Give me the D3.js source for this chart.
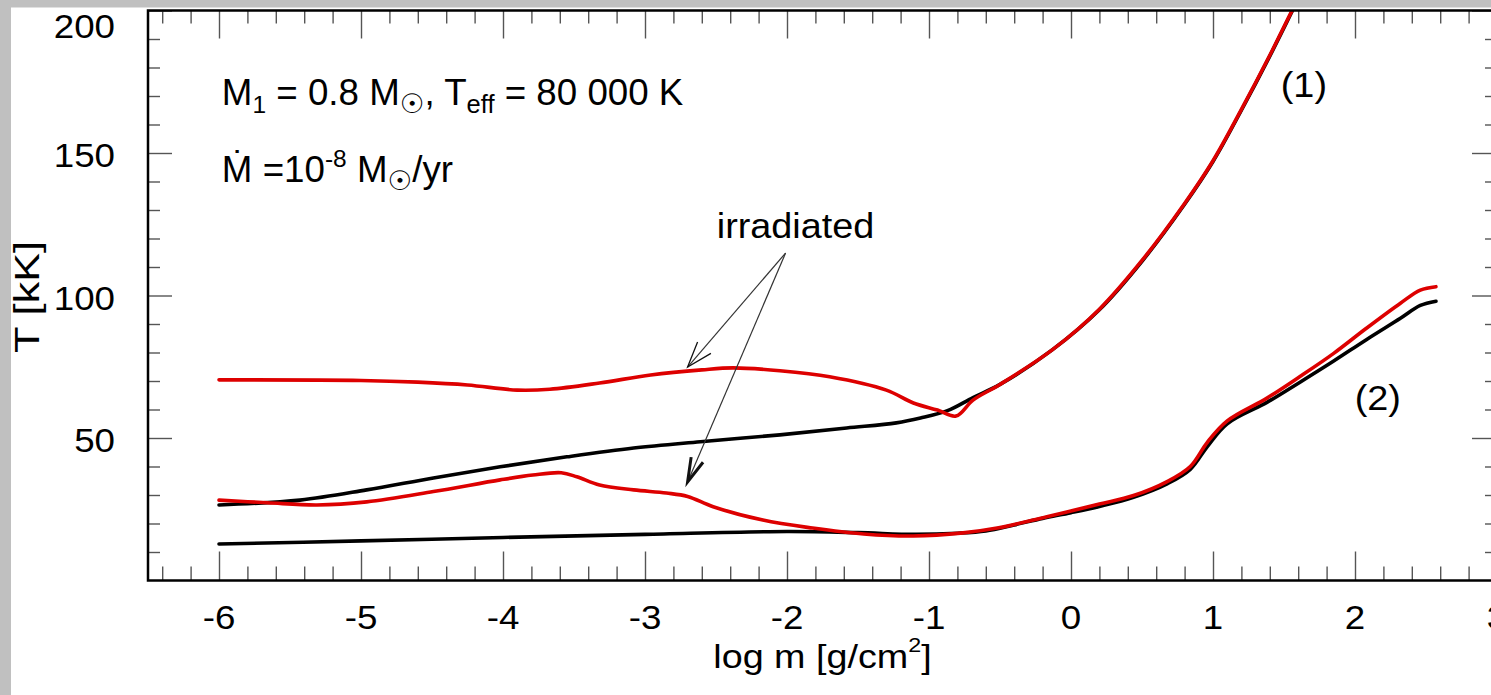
<!DOCTYPE html>
<html><head><meta charset="utf-8">
<script src="https://cdn.jsdelivr.net/npm/d3@7"></script>
<style>html,body{margin:0;padding:0;background:#c0c0c0;overflow:hidden}</style>
</head><body><svg id="c" width="1491" height="695"></svg>
<script>
// ---- data (log m [g/cm^2], T [kK]) ----
const logmBlack1 = [-6, -5.43, -4.96, -4.49, -4.02, -3.55, -3.08, -2.61, -2.05, -1.58, -1.23, -1.06, -0.87, -0.69, -0.5, -0.13, 0.2, 0.5, 0.8, 1.0, 1.2, 1.4, 1.56, 1.62];
const TBlack1    = [26.5, 28.2, 31.8, 36.0, 39.9, 43.4, 46.5, 48.7, 51.1, 53.5, 55.3, 57.0, 59.6, 64.2, 68.8, 81.0, 95.0, 112, 132, 147, 165, 184, 200, 206];
const logmRed1   = [-6, -5, -4.6, -4.25, -3.9, -3.67, -3.32, -2.96, -2.6, -2.38, -2.05, -1.7, -1.3, -1.11, -0.94, -0.81, -0.69, -0.5, -0.13, 0.2, 0.5, 0.8, 1.0, 1.2, 1.4, 1.56, 1.62];
const TRed1      = [70.4, 70.2, 69.6, 68.6, 66.8, 67.1, 69.3, 72.1, 73.9, 74.6, 73.6, 71.5, 66.8, 62.3, 59.8, 57.7, 63.3, 68.8, 81.0, 95.2, 112.3, 132.3, 147.3, 165.3, 184.3, 200.3, 206];
const logmBlack2 = [-6, -5, -4, -3, -2, -1.5, -1.1, -0.8, -0.6, -0.4, -0.2, 0, 0.2, 0.44, 0.68, 0.84, 0.96, 1.1, 1.38, 1.61, 1.85, 2.08, 2.32, 2.46, 2.57];
const TBlack2    = [12.8, 13.9, 15.1, 16.2, 17.2, 16.8, 16.2, 16.6, 17.4, 19.5, 21.8, 23.8, 26.0, 29.2, 34.0, 39.0, 47.0, 55.0, 62.5, 69.5, 77.0, 84.5, 92.0, 96.5, 98.0];
const logmRed2   = [-6, -5.66, -5.31, -4.96, -4.49, -4.02, -3.79, -3.59, -3.48, -3.32, -3.08, -2.85, -2.7, -2.52, -2.17, -1.82, -1.46, -1.11, -0.76, -0.52, -0.17, 0.2, 0.44, 0.68, 0.84, 0.96, 1.1, 1.38, 1.61, 1.85, 2.08, 2.32, 2.46, 2.57];
const TRed2      = [28.2, 27.3, 26.5, 27.6, 31.2, 35.3, 37.0, 37.8, 36.4, 33.5, 31.8, 30.7, 29.5, 25.9, 21.2, 18.4, 16.3, 15.6, 16.7, 18.4, 22.4, 26.8, 29.8, 34.8, 40.0, 48.5, 56.0, 64.0, 71.5, 79.7, 88.5, 97.3, 101.9, 103.1];

const xMajorTicks = [-6, -5, -4, -3, -2, -1, 0, 1, 2, 3];
const yMajorTicks = [50, 100, 150, 200];
const xDomain = [-6.5, 3];
const yDomain = [0, 200];

// annotation anchors in data units
const arrowFrom = [-2.01, 114.9];
const arrowTo = [[-2.70, 74.9], [-2.70, 34.6]];

// ---- drawing ----
const W = 1491, H = 695;
const svg = d3.select('#c');
const FONT = '"Liberation Sans", Arial, Helvetica, sans-serif';
const SX = 1.08;

svg.append('rect').attr('width', W).attr('height', H).attr('fill', '#c0c0c0');
svg.append('rect').attr('x', 11).attr('y', 7.5).attr('width', W).attr('height', H).attr('fill', '#fff');

const x = d3.scaleLinear().domain(xDomain).range([148, 1497]);
const y = d3.scaleLinear().domain(yDomain).range([580.5, 10.5]);

const xMinor = d3.range(-64, 31, 2).map(v => v / 10).filter(v => Math.abs(v - Math.round(v)) > 1e-6);
const yMinor = d3.range(10, 200, 10).filter(v => v % 50 !== 0);

function tickAxis(axis, tr, vals, size) {
  const g = svg.append('g').attr('transform', tr)
    .call(axis.tickValues(vals).tickSize(size).tickFormat(''));
  g.select('.domain').remove();
  g.selectAll('.tick line').attr('stroke', '#555').attr('stroke-width', 1.4);
}
tickAxis(d3.axisBottom(x), `translate(0,${y(0)})`, xMinor, -14);
tickAxis(d3.axisBottom(x), `translate(0,${y(0)})`, xMajorTicks, -29);
tickAxis(d3.axisTop(x), `translate(0,${y(200)})`, xMinor, -13);
tickAxis(d3.axisTop(x), `translate(0,${y(200)})`, xMajorTicks, -28);
tickAxis(d3.axisLeft(y), `translate(${x(-6.5)},0)`, yMinor, -12);
tickAxis(d3.axisLeft(y), `translate(${x(-6.5)},0)`, yMajorTicks, -24);
tickAxis(d3.axisRight(y), `translate(${x(3)},0)`, yMinor, -12);
tickAxis(d3.axisRight(y), `translate(${x(3)},0)`, yMajorTicks, -25);

// clip
svg.append('clipPath').attr('id', 'plot').append('rect')
  .attr('x', x(-6.5)).attr('y', y(200)).attr('width', x(3) - x(-6.5)).attr('height', y(0) - y(200));

const line = d3.line().x(d => x(d[0])).y(d => y(d[1])).curve(d3.curveCatmullRom.alpha(0.5));
const zip = (a, b) => a.map((v, i) => [v, b[i]]);
const curves = [
  [zip(logmBlack2, TBlack2), '#000'],
  [zip(logmBlack1, TBlack1), '#000'],
  [zip(logmRed2, TRed2), '#dd0000'],
  [zip(logmRed1, TRed1), '#dd0000'],
];
const cg = svg.append('g').attr('clip-path', 'url(#plot)');
curves.forEach(([d, c]) => {
  cg.append('path').attr('d', line(d)).attr('fill', 'none').attr('stroke', c)
    .attr('stroke-width', 3.6).attr('stroke-linejoin', 'round').attr('stroke-linecap', 'round');
});

// frame
svg.append('rect').attr('x', x(-6.5)).attr('y', y(200)).attr('width', x(3) - x(-6.5)).attr('height', y(0) - y(200))
  .attr('fill', 'none').attr('stroke', '#000').attr('stroke-width', 2.5);

// text helper
function txt(px, py, anchor, size, sx) {
  return svg.append('g').attr('transform', `translate(${px},${py}) scale(${sx},1)`)
    .append('text').attr('text-anchor', anchor).attr('font-family', FONT)
    .attr('font-size', size).attr('fill', '#000');
}

// tick labels
xMajorTicks.forEach(v => txt(x(v), 629, 'middle', 34, SX).text(String(v)));
yMajorTicks.forEach(v => txt(115, Math.max(y(v) + 14, 38), 'end', 34, SX).text(String(v)));

// axis titles
const xl = txt((x(-6.5) + x(3)) / 2, 668, 'middle', 34, 1.11);
xl.append('tspan').text('log m [g/cm');
xl.append('tspan').attr('font-size', 21).attr('dy', -16).text('2');
xl.append('tspan').attr('dy', 16).text(']');

svg.append('g').attr('transform', `translate(39,297) rotate(-90) scale(1.2,1)`)
  .append('text').attr('text-anchor', 'middle').attr('font-family', FONT).attr('font-size', 36).text('T [kK]');

// parameter annotation
const SUN = '"DejaVu Sans", sans-serif';
const l1 = txt(x(-5.98), y(166.8), 'start', 36, 1.02);
l1.append('tspan').text('M');
l1.append('tspan').attr('font-size', 24).attr('dy', 8).text('1');
l1.append('tspan').attr('dy', -8).text(' = 0.8 M');
l1.append('tspan').attr('font-size', 27).attr('font-family', SUN).attr('dy', 8).text('☉');
l1.append('tspan').attr('dy', -8).text(', T');
l1.append('tspan').attr('font-size', 25).attr('dy', 8).text('eff');
l1.append('tspan').attr('dy', -8).text(' = 80 000 K');

const l2 = txt(x(-5.98), y(139.8), 'start', 36, 1.02);
l2.append('tspan').text('Ṁ =10');
l2.append('tspan').attr('font-size', 24).attr('dy', -15).text('-8');
l2.append('tspan').attr('dy', 15).text(' M');
l2.append('tspan').attr('font-size', 27).attr('font-family', SUN).attr('dy', 8).text('☉');
l2.append('tspan').attr('dy', -8).text('/yr');

// curve labels
txt(x(1.64), y(169.6), 'middle', 35, SX).text('(1)');
txt(x(2.16), y(59.8), 'middle', 35, SX).text('(2)');
txt(x(-1.94), y(120.2), 'middle', 35, SX).text('irradiated');

// arrows
const heads = [{ ang: 19, len: 27, w: 1.3 }, { ang: 15, len: 25, w: 3 }];
arrowTo.forEach((t, i) => {
  const x0 = x(arrowFrom[0]), y0 = y(arrowFrom[1]), x1 = x(t[0]), y1 = y(t[1]);
  svg.append('line').attr('x1', x0).attr('y1', y0).attr('x2', x1).attr('y2', y1)
    .attr('stroke', '#333').attr('stroke-width', 1.2);
  const a = Math.atan2(y0 - y1, x0 - x1);
  const h = heads[i];
  const pts = [-1, 1].map(s => {
    const b = a + s * h.ang * Math.PI / 180;
    return [x1 + h.len * Math.cos(b), y1 + h.len * Math.sin(b)];
  });
  svg.append('path').attr('d', `M${pts[0]}L${x1},${y1}L${pts[1]}`)
    .attr('fill', 'none').attr('stroke', '#111').attr('stroke-width', h.w).attr('stroke-linejoin', 'miter');
});
</script></body></html>
